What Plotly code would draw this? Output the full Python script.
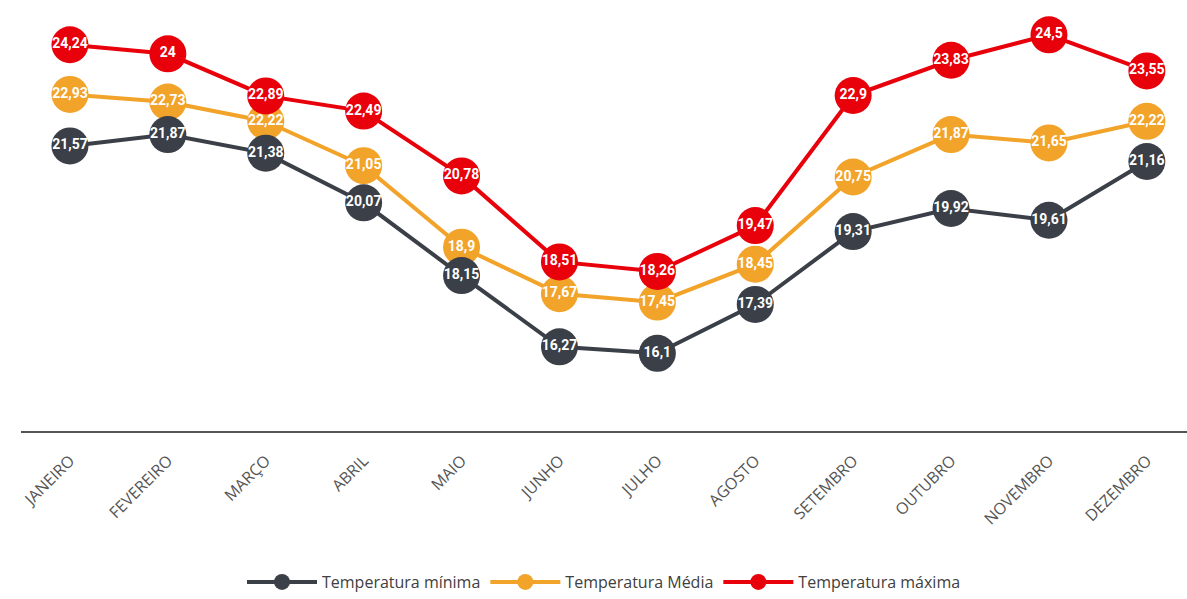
import plotly.graph_objects as go

meses = ["JANEIRO", "FEVEREIRO", "MARÇO", "ABRIL", "MAIO", "JUNHO",
         "JULHO", "AGOSTO", "SETEMBRO", "OUTUBRO", "NOVEMBRO", "DEZEMBRO"]
temp_minima = [21.57, 21.87, 21.38, 20.07, 18.15, 16.27, 16.1, 17.39, 19.31, 19.92, 19.61, 21.16]
temp_media = [22.93, 22.73, 22.22, 21.05, 18.9, 17.67, 17.45, 18.45, 20.75, 21.87, 21.65, 22.22]
temp_maxima = [24.24, 24, 22.89, 22.49, 20.78, 18.51, 18.26, 19.47, 22.9, 23.83, 24.5, 23.55]


def rotulos(valores):
    return [f"{v:g}".replace(".", ",") for v in valores]


series = [
    # drawn back-to-front: média under mínima, máxima on top
    ("Temperatura Média", temp_media, "#F2A32A", 2),
    ("Temperatura mínima", temp_minima, "#3B3F47", 1),
    ("Temperatura máxima", temp_maxima, "#E8000B", 3),
]

fig = go.Figure()
for nome, valores, cor, rank in series:
    fig.add_trace(go.Scatter(
        x=meses, y=valores, name=nome, legendrank=rank,
        mode="lines+markers+text",
        line=dict(color=cor, width=4),
        marker=dict(color=cor, size=37),
        text=rotulos(valores), textposition="middle center",
        textfont=dict(family="Roboto", size=14, color="white", weight="bold"),
        cliponaxis=False,
    ))

fig.update_layout(
    width=1187, height=599,
    margin=dict(l=21, r=0, t=0, b=167),
    plot_bgcolor="white", paper_bgcolor="white",
    showlegend=True,
    legend=dict(orientation="h", x=0.5, xanchor="center", y=-0.35, yanchor="middle",
                font=dict(family="Open Sans", size=16, color="#404040"),
                itemwidth=70, traceorder="normal"),
    xaxis=dict(range=[-0.5, 11.41], showgrid=False, tickangle=-45,
               showline=True, linecolor="#555555", linewidth=2,
               ticks="outside", ticklen=12, tickcolor="rgba(0,0,0,0)",
               tickfont=dict(family="Open Sans", size=16, color="#555555")),
    yaxis=dict(range=[14.05, 25.42], showgrid=False, showticklabels=False,
               zeroline=False, showline=False),
)

fig.write_html("out.html")
